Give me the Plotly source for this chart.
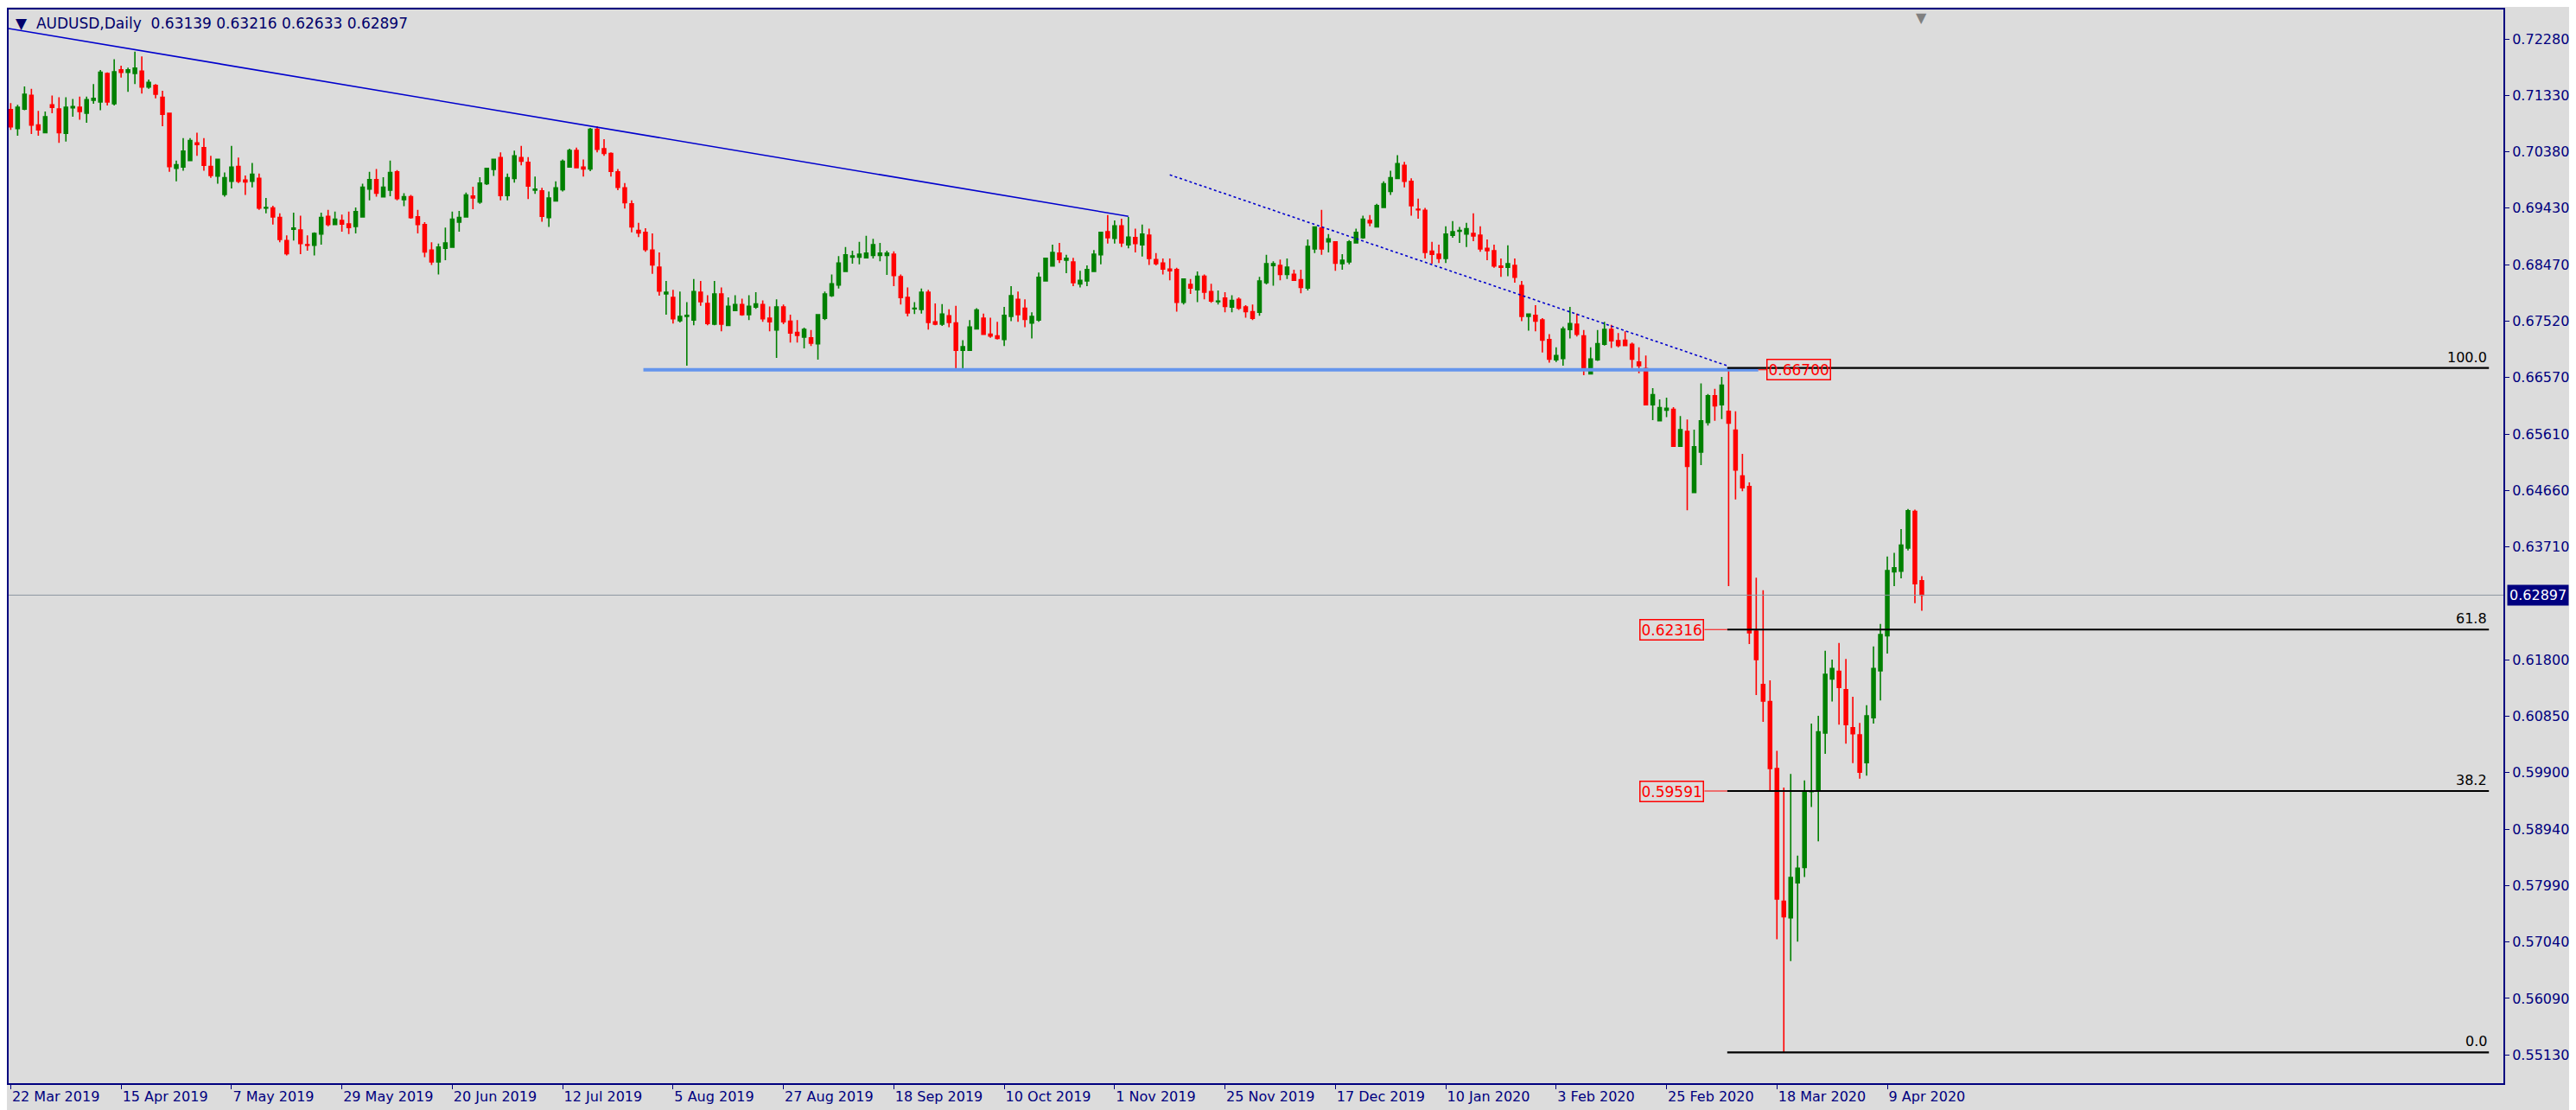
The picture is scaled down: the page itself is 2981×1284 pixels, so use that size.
import plotly.graph_objects as go

opens = [0.7109,0.7077,0.7110,0.7133,0.7083,0.7070,0.7117,0.7110,0.7069,0.7112,
0.7113,0.7103,0.7125,0.7122,0.7170,0.7119,0.7176,0.7172,0.7170,0.7174,
0.7147,0.7150,0.7130,0.7103,0.7010,0.7012,0.7023,0.7053,0.7045,0.7013,
0.6997,0.6966,0.6988,0.7013,0.6990,0.6988,0.6993,0.6943,0.6943,0.6927,
0.6888,0.6907,0.6906,0.6881,0.6880,0.6899,0.6929,0.6915,0.6922,0.6916,
0.6912,0.6928,0.6975,0.6991,0.6962,0.6973,0.7004,0.6957,0.6962,0.6928,
0.6915,0.6872,0.6852,0.6875,0.6877,0.6919,0.6928,0.6963,0.6953,0.6984,
0.7008,0.7028,0.6964,0.6993,0.7028,0.7020,0.6973,0.6972,0.6927,0.6955,
0.6974,0.7012,0.7040,0.7012,0.7009,0.7076,0.7043,0.7035,0.7004,0.6977,
0.6950,0.6905,0.6902,0.6872,0.6843,0.6798,0.6792,0.6753,0.6760,0.6754,
0.6801,0.6782,0.6747,0.6798,0.6745,0.6770,0.6780,0.6763,0.6776,0.6780,
0.6757,0.6737,0.6776,0.6752,0.6733,0.6725,0.6724,0.6714,0.6757,0.6795,
0.6813,0.6836,0.6860,0.6860,0.6859,0.6863,0.6863,0.6863,0.6865,0.6827,
0.6792,0.6773,0.6772,0.6801,0.6751,0.6747,0.6761,0.6749,0.6703,0.6703,
0.6739,0.6757,0.6730,0.6727,0.6721,0.6760,0.6789,0.6774,0.6749,0.6754,
0.6820,0.6845,0.6867,0.6855,0.6852,0.6815,0.6820,0.6836,0.6864,0.6903,
0.6892,0.6913,0.6881,0.6893,0.6881,0.6897,0.6856,0.6850,0.6840,0.6839,
0.6784,0.6814,0.6805,0.6828,0.6802,0.6785,0.6791,0.6776,0.6789,0.6776,
0.6768,0.6767,0.6817,0.6846,0.6846,0.6831,0.6831,0.6822,0.6808,0.6874,
0.6909,0.6886,0.6886,0.6849,0.6852,0.6884,0.6893,0.6922,0.6911,0.6944,
0.6971,0.6993,0.7015,0.6988,0.6941,0.6939,0.6870,0.6865,0.6858,0.6897,
0.6904,0.6899,0.6900,0.6897,0.6875,0.6871,0.6845,0.6843,0.6846,0.6812,
0.6760,0.6762,0.6754,0.6721,0.6687,0.6689,0.6738,0.6747,0.6727,0.6663,
0.6687,0.6713,0.6738,0.6719,0.6720,0.6713,0.6683,0.6672,0.6611,0.6584,
0.6602,0.6603,0.6541,0.6566,0.6463,0.6531,0.6581,0.6626,0.6611,0.6600,
0.6568,0.6491,0.6473,0.6229,0.6139,0.6110,0.5997,0.5773,0.5745,0.5804,
0.5830,0.5958,0.5959,0.6057,0.6148,0.6161,0.6130,0.6066,0.6054,0.6007,
0.6083,0.6162,0.6221,0.6329,0.6330,0.6369,0.6431,0.63139]

highs = [0.7120,0.7117,0.7148,0.7144,0.7107,0.7106,0.7133,0.7130,0.7130,0.7127,
0.7131,0.7131,0.7152,0.7176,0.7172,0.7194,0.7183,0.7180,0.7207,0.7199,
0.7160,0.7152,0.7141,0.7103,0.7023,0.7061,0.7061,0.7070,0.7061,0.7031,
0.7025,0.7003,0.7048,0.7028,0.6998,0.7019,0.7001,0.6960,0.6947,0.6934,
0.6897,0.6935,0.6930,0.6897,0.6902,0.6935,0.6940,0.6937,0.6932,0.6937,
0.6944,0.6984,0.7004,0.7009,0.6995,0.7023,0.7007,0.6968,0.6965,0.6940,
0.6919,0.6885,0.6883,0.6910,0.6937,0.6938,0.6969,0.6979,0.6995,0.7010,
0.7025,0.7037,0.7001,0.7040,0.7048,0.7029,0.6996,0.6977,0.6971,0.6988,
0.7025,0.7043,0.7045,0.7025,0.7078,0.7081,0.7059,0.7037,0.7009,0.6985,
0.6956,0.6918,0.6909,0.6900,0.6868,0.6820,0.6805,0.6802,0.6784,0.6823,
0.6820,0.6796,0.6820,0.6809,0.6792,0.6796,0.6790,0.6796,0.6801,0.6787,
0.6777,0.6789,0.6780,0.6763,0.6754,0.6741,0.6737,0.6764,0.6802,0.6831,
0.6862,0.6877,0.6871,0.6886,0.6896,0.6891,0.6884,0.6871,0.6870,0.6831,
0.6809,0.6784,0.6807,0.6805,0.6782,0.6781,0.6772,0.6778,0.6720,0.6754,
0.6774,0.6765,0.6758,0.6751,0.6776,0.6811,0.6802,0.6789,0.6767,0.6834,
0.6858,0.6881,0.6884,0.6864,0.6859,0.6837,0.6846,0.6872,0.6902,0.6931,
0.6922,0.6925,0.6928,0.6908,0.6915,0.6908,0.6867,0.6858,0.6858,0.6842,
0.6823,0.6823,0.6836,0.6831,0.6815,0.6804,0.6801,0.6796,0.6792,0.6779,
0.6780,0.6827,0.6864,0.6853,0.6856,0.6858,0.6839,0.6839,0.6890,0.6912,
0.6940,0.6899,0.6886,0.6865,0.6889,0.6908,0.6930,0.6931,0.6950,0.6988,
0.7006,0.7032,0.7021,0.6993,0.6959,0.6943,0.6886,0.6881,0.6912,0.6921,
0.6911,0.6918,0.6934,0.6912,0.6890,0.6881,0.6858,0.6880,0.6858,0.6820,
0.6765,0.6779,0.6757,0.6730,0.6708,0.6743,0.6776,0.6765,0.6737,0.6708,
0.6737,0.6751,0.6746,0.6732,0.6735,0.6716,0.6708,0.6694,0.6639,0.6620,
0.6623,0.6607,0.6592,0.6586,0.6569,0.6647,0.6629,0.6638,0.6658,0.6673,
0.6600,0.6528,0.6480,0.6319,0.6298,0.6146,0.6027,0.5965,0.5988,0.5850,
0.5977,0.6073,0.6086,0.6196,0.6181,0.6209,0.6182,0.6118,0.6074,0.6104,
0.6203,0.6241,0.6355,0.6361,0.6401,0.6435,0.6434,0.63216]

lows = [0.7075,0.7065,0.7108,0.7068,0.7065,0.7070,0.7103,0.7053,0.7055,0.7097,
0.7092,0.7087,0.7119,0.7108,0.7116,0.7116,0.7163,0.7139,0.7152,0.7136,
0.7144,0.7128,0.7081,0.7004,0.6988,0.7006,0.7023,0.7031,0.7006,0.6994,
0.6984,0.6962,0.6976,0.6985,0.6965,0.6978,0.6940,0.6934,0.6915,0.6885,
0.6863,0.6888,0.6865,0.6871,0.6863,0.6881,0.6912,0.6915,0.6903,0.6899,
0.6900,0.6927,0.6956,0.6962,0.6962,0.6963,0.6956,0.6946,0.6925,0.6900,
0.6860,0.6847,0.6831,0.6855,0.6877,0.6903,0.6928,0.6941,0.6950,0.6982,
0.6997,0.6956,0.6956,0.6986,0.7015,0.6958,0.6967,0.6920,0.6911,0.6954,
0.6971,0.7012,0.7011,0.6996,0.7005,0.7037,0.7031,0.6996,0.6973,0.6942,
0.6902,0.6894,0.6869,0.6832,0.6795,0.6763,0.6748,0.6750,0.6677,0.6745,
0.6778,0.6745,0.6745,0.6735,0.6745,0.6770,0.6761,0.6754,0.6773,0.6751,
0.6735,0.6690,0.6747,0.6716,0.6716,0.6706,0.6710,0.6687,0.6754,0.6793,
0.6807,0.6836,0.6849,0.6848,0.6859,0.6858,0.6853,0.6830,0.6811,0.6780,
0.6760,0.6764,0.6765,0.6738,0.6745,0.6744,0.6742,0.6672,0.6671,0.6703,
0.6738,0.6729,0.6724,0.6721,0.6710,0.6752,0.6751,0.6742,0.6723,0.6751,
0.6820,0.6845,0.6850,0.6833,0.6811,0.6809,0.6811,0.6836,0.6848,0.6883,
0.6883,0.6877,0.6875,0.6868,0.6861,0.6847,0.6846,0.6831,0.6821,0.6768,
0.6780,0.6798,0.6784,0.6789,0.6783,0.6780,0.6767,0.6767,0.6771,0.6758,
0.6754,0.6761,0.6814,0.6812,0.6821,0.6823,0.6820,0.6799,0.6804,0.6867,
0.6864,0.6868,0.6837,0.6839,0.6848,0.6883,0.6891,0.6912,0.6911,0.6944,
0.6965,0.6993,0.6978,0.6930,0.6925,0.6858,0.6849,0.6850,0.6850,0.6893,
0.6884,0.6877,0.6887,0.6869,0.6855,0.6842,0.6827,0.6828,0.6817,0.6752,
0.6736,0.6735,0.6699,0.6682,0.6683,0.6677,0.6723,0.6726,0.6661,0.6663,
0.6685,0.6711,0.6707,0.6708,0.6711,0.6673,0.6664,0.6610,0.6585,0.6584,
0.6590,0.6541,0.6540,0.6433,0.6462,0.6509,0.6576,0.6584,0.6587,0.6305,
0.6451,0.6465,0.6207,0.6121,0.6076,0.5960,0.5709,0.5518,0.5672,0.5705,
0.5814,0.5932,0.5874,0.6022,0.6110,0.6071,0.6039,0.6006,0.5980,0.5985,
0.6073,0.6112,0.6191,0.6305,0.6318,0.6365,0.6276,0.62633]

closes = [0.7080,0.7113,0.7135,0.7083,0.7075,0.7097,0.7113,0.7070,0.7113,0.7114,
0.7106,0.7126,0.7128,0.7172,0.7122,0.7173,0.7172,0.7176,0.7179,0.7147,
0.7155,0.7135,0.7101,0.7013,0.7016,0.7039,0.7057,0.7050,0.7015,0.6998,
0.7025,0.6994,0.7012,0.6988,0.6987,0.7000,0.6943,0.6944,0.6928,0.6890,
0.6866,0.6909,0.6883,0.6880,0.6900,0.6927,0.6915,0.6924,0.6916,0.6910,
0.6937,0.6978,0.6991,0.6968,0.6978,0.7003,0.6959,0.6962,0.6927,0.6915,
0.6869,0.6852,0.6877,0.6884,0.6924,0.6927,0.6965,0.6960,0.6985,0.7010,
0.7025,0.6964,0.6994,0.7031,0.7022,0.6980,0.6975,0.6929,0.6960,0.6977,
0.7022,0.7040,0.7011,0.7009,0.7076,0.7042,0.7035,0.7005,0.6978,0.6952,
0.6911,0.6901,0.6873,0.6847,0.6803,0.6801,0.6756,0.6760,0.6762,0.6802,
0.6785,0.6748,0.6798,0.6747,0.6777,0.6780,0.6763,0.6777,0.6781,0.6756,
0.6751,0.6776,0.6751,0.6732,0.6728,0.6738,0.6715,0.6763,0.6798,0.6815,
0.6850,0.6864,0.6862,0.6865,0.6867,0.6881,0.6867,0.6867,0.6829,0.6792,
0.6766,0.6774,0.6801,0.6750,0.6747,0.6764,0.6750,0.6703,0.6709,0.6742,
0.6771,0.6730,0.6727,0.6723,0.6762,0.6795,0.6763,0.6755,0.6760,0.6826,
0.6858,0.6868,0.6856,0.6858,0.6817,0.6821,0.6839,0.6865,0.6902,0.6893,
0.6913,0.6884,0.6894,0.6883,0.6899,0.6858,0.6849,0.6840,0.6837,0.6784,
0.6823,0.6808,0.6828,0.6801,0.6786,0.6786,0.6777,0.6787,0.6774,0.6768,
0.6757,0.6820,0.6849,0.6849,0.6831,0.6843,0.6821,0.6809,0.6878,0.6911,
0.6874,0.6891,0.6850,0.6855,0.6886,0.6902,0.6924,0.6918,0.6947,0.6984,
0.6994,0.7018,0.6988,0.6947,0.6940,0.6868,0.6865,0.6858,0.6899,0.6903,
0.6905,0.6908,0.6896,0.6874,0.6871,0.6845,0.6843,0.6849,0.6826,0.6760,
0.6764,0.6752,0.6720,0.6688,0.6694,0.6739,0.6748,0.6730,0.6673,0.6688,
0.6714,0.6738,0.6719,0.6711,0.6711,0.6688,0.6677,0.6611,0.6628,0.6606,
0.6605,0.6541,0.6569,0.6507,0.6540,0.6584,0.6626,0.6609,0.6644,0.6580,
0.6501,0.6471,0.6226,0.6181,0.6111,0.5997,0.5777,0.5747,0.5813,0.5829,
0.5958,0.5959,0.6059,0.6156,0.6166,0.6134,0.6071,0.6056,0.5991,0.6086,
0.6166,0.6223,0.6331,0.6336,0.6374,0.6432,0.6309,0.62897]

date_labels = ["22 Mar 2019","15 Apr 2019","7 May 2019","29 May 2019","20 Jun 2019",
"12 Jul 2019","5 Aug 2019","27 Aug 2019","18 Sep 2019","10 Oct 2019","1 Nov 2019",
"25 Nov 2019","17 Dec 2019","10 Jan 2020","3 Feb 2020","25 Feb 2020","18 Mar 2020","9 Apr 2020"]
date_index = [0,16,32,48,64,80,96,112,128,144,160,176,192,208,224,240,256,272]

price_ticks = [0.72280,0.71330,0.70380,0.69430,0.68470,0.67520,0.66570,0.65610,0.64660,
0.63710,0.61800,0.60850,0.59900,0.58940,0.57990,0.57040,0.56090,0.55130]

fib_levels = [0.6673, 0.62316, 0.59591, 0.5518]
fib_names = ["100.0", "61.8", "38.2", "0.0"]
support_level = 0.66700
last_price = 0.62897

NAVY = "#00007f"
BG = "#dcdcdc"
FONT = "DejaVu Sans"

x = list(range(len(closes)))
fig = go.Figure(go.Candlestick(
    x=x, open=opens, high=highs, low=lows, close=closes,
    increasing=dict(line=dict(color="#008000", width=1.6), fillcolor="#008000"),
    decreasing=dict(line=dict(color="#ff0000", width=1.6), fillcolor="#ff0000"),
    whiskerwidth=0, hoverinfo="skip", showlegend=False))

shapes = []
shapes.append(dict(type="line", x0=-0.3, y0=0.7246, x1=162, y1=0.6929,
                   line=dict(color="#0000cd", width=1.6)))
shapes.append(dict(type="line", x0=168, y0=0.6999, x1=249, y1=0.6676,
                   line=dict(color="#0000cd", width=1.6, dash="dot")))
shapes.append(dict(type="line", x0=91.7, y0=support_level, x1=253.3, y1=support_level,
                   line=dict(color="#6495ed", width=4)))
shapes.append(dict(type="line", x0=253.3, y0=support_level, x1=254.5, y1=support_level,
                   line=dict(color="#ff0000", width=1)))
shapes.append(dict(type="line", xref="paper", x0=0, x1=1, y0=last_price, y1=last_price,
                   line=dict(color="#8c96a0", width=1)))
for lv in fib_levels:
    shapes.append(dict(type="line", x0=248.8, y0=lv, x1=359.2, y1=lv,
                       line=dict(color="#000000", width=2.2)))

ann = []
for lv, nm in zip(fib_levels, fib_names):
    ann.append(dict(x=359.2, y=lv, text=nm, showarrow=False, xanchor="right", yanchor="bottom",
                    yshift=1, font=dict(family=FONT, size=16, color="#000000")))
ann.append(dict(x=254.5, y=support_level, text="0.66700", showarrow=False, xanchor="left",
                yanchor="middle", bordercolor="#ff0000", borderwidth=1.5, borderpad=1,
                font=dict(family=FONT, size=17, color="#ff0000")))
for lv in (fib_levels[1], fib_levels[2]):
    shapes.append(dict(type="line", x0=245.5, y0=lv, x1=248.8, y1=lv,
                       line=dict(color="#ff0000", width=1)))
    ann.append(dict(x=245.5, y=lv, text=f"{lv:.5f}", showarrow=False, xanchor="right",
                    yanchor="middle", bordercolor="#ff0000", borderwidth=1.5, borderpad=1,
                    font=dict(family=FONT, size=17, color="#ff0000")))
ann.append(dict(xref="paper", x=1.0, y=last_price, text=f"{last_price:.5f}", showarrow=False,
                xanchor="left", yanchor="middle", xshift=4, bgcolor="#000080", borderpad=2,
                font=dict(family=FONT, size=16, color="#ffffff")))
ann.append(dict(xref="paper", yref="paper", x=0.002, y=0.997, xanchor="left", yanchor="top",
                showarrow=False,
                text="▼  AUDUSD,Daily  0.63139 0.63216 0.62633 0.62897",
                font=dict(family=FONT, size=17, color="#00006b")))
ann.append(dict(x=277, xref="x", yref="paper", y=1.0, yanchor="top", yshift=2,
                showarrow=False, text="▼", font=dict(family=FONT, size=16, color="#808080")))

fig.update_layout(
    width=2981, height=1284,
    margin=dict(l=0, r=92, t=3, b=39),
    paper_bgcolor=BG, plot_bgcolor=BG,
    shapes=shapes, annotations=ann,
    xaxis=dict(range=[-0.3, 361.3], rangeslider=dict(visible=False), showgrid=False,
               zeroline=False, tickmode="array", tickvals=date_index, ticktext=date_labels,
               ticks="outside", ticklen=5, tickcolor=NAVY, ticklabelposition="outside right",
               tickfont=dict(family=FONT, size=16, color=NAVY),
               showline=True, linecolor=NAVY, linewidth=2, mirror=True),
    yaxis=dict(range=[0.5466, 0.7278], side="right", showgrid=False, zeroline=False,
               tickmode="array", tickvals=price_ticks, ticktext=[f"{v:.5f}" for v in price_ticks],
               ticks="outside", ticklen=5, tickcolor=NAVY,
               tickfont=dict(family=FONT, size=16, color=NAVY),
               showline=True, linecolor=NAVY, linewidth=2, mirror=True),
)
fig.write_html("out.html")
